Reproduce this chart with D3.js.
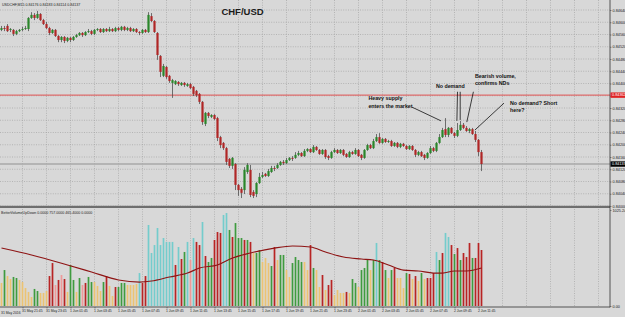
<!DOCTYPE html>
<html>
<head>
<meta charset="utf-8">
<script src="https://cdn.jsdelivr.net/npm/d3@7"></script>
<style>
html, body { margin: 0; padding: 0; background: #d8d8d8; }
svg { display: block; font-family: "Liberation Sans", Arial, sans-serif; }
</style>
</head>
<body>
<svg id="chart" width="625" height="317"></svg>
<script>
// USDCHF M15, one entry per bar (bar 0 = 31 May 20:00)
var opens = [.84575,.84581,.84588,.84575,.84575,.84562,.84571,.84575,.84578,.84578,
  .84614,.84624,.84614,.84627,.84607,.84594,.84581,.84565,.84575,.84555,
  .84542,.84552,.84539,.84549,.84542,.84552,.84558,.84565,.84558,.84568,
  .84571,.84562,.84575,.84578,.84568,.84578,.84571,.84578,.84571,.84581,
  .84575,.84585,.84575,.84581,.84571,.84578,.84568,.84565,.84575,.84568,
  .84620,.84604,.84565,.84490,.84425,.84454,.84425,.84402,.84398,.84405,
  .84395,.84402,.84392,.84398,.84389,.84376,.84366,.84340,.84268,.84304,
  .84291,.84297,.84287,.84225,.84206,.84189,.84154,.84131,.84137,.84069,
  .84056,.84052,.84111,.84118,.84046,.84039,.84075,.84095,.84105,.84098,
  .84111,.84124,.84124,.84134,.84144,.84140,.84150,.84157,.84157,.84167,
  .84173,.84163,.84180,.84186,.84176,.84193,.84183,.84170,.84183,.84163,
  .84157,.84176,.84183,.84173,.84183,.84170,.84160,.84176,.84170,.84183,
  .84167,.84157,.84183,.84199,.84189,.84212,.84225,.84206,.84219,.84209,
  .84212,.84196,.84206,.84193,.84203,.84196,.84186,.84196,.84183,.84167,
  .84176,.84167,.84157,.84173,.84189,.84180,.84206,.84225,.84251,.84232,
  .84255,.84238,.84229,.84248,.84265,.84255,.84245,.84251,.84235,.84216,
  .84176];
var highs = [.84588,.84588,.84594,.84581,.84578,.84575,.84578,.84585,.84588,.84617,
  .84633,.84630,.84637,.84630,.84611,.84601,.84585,.84578,.84578,.84558,
  .84555,.84555,.84552,.84552,.84555,.84562,.84568,.84568,.84571,.84578,
  .84575,.84578,.84581,.84581,.84581,.84581,.84585,.84581,.84585,.84585,
  .84588,.84588,.84585,.84585,.84581,.84581,.84571,.84578,.84578,.84633,
  .84630,.84607,.84568,.84493,.84464,.84457,.84428,.84415,.84411,.84408,
  .84405,.84405,.84402,.84402,.84392,.84379,.84369,.84343,.84307,.84307,
  .84300,.84300,.84291,.84229,.84209,.84193,.84157,.84160,.84140,.84072,
  .84062,.84127,.84140,.84134,.84052,.84078,.84108,.84111,.84108,.84121,
  .84131,.84131,.84140,.84147,.84150,.84157,.84160,.84163,.84176,.84180,
  .84176,.84186,.84189,.84189,.84199,.84196,.84186,.84186,.84186,.84167,
  .84180,.84189,.84186,.84186,.84186,.84173,.84180,.84180,.84189,.84186,
  .84170,.84186,.84203,.84203,.84219,.84235,.84238,.84222,.84222,.84216,
  .84216,.84209,.84209,.84206,.84206,.84199,.84199,.84199,.84186,.84180,
  .84180,.84170,.84176,.84196,.84193,.84209,.84235,.84255,.84287,.84258,
  .84258,.84242,.84271,.84278,.84271,.84261,.84255,.84255,.84245,.84219,
  .84183];
var lows = [.84571,.84571,.84568,.84568,.84555,.84558,.84568,.84571,.84575,.84571,
  .84611,.84607,.84611,.84604,.84591,.84578,.84558,.84562,.84552,.84535,
  .84535,.84532,.84535,.84535,.84539,.84549,.84555,.84552,.84555,.84565,
  .84558,.84558,.84571,.84565,.84565,.84568,.84568,.84568,.84568,.84571,
  .84571,.84571,.84571,.84568,.84568,.84565,.84558,.84562,.84565,.84565,
  .84601,.84565,.84477,.84421,.84421,.84415,.84402,.84353,.84395,.84392,
  .84392,.84389,.84389,.84382,.84359,.84356,.84333,.84265,.84261,.84287,
  .84287,.84281,.84212,.84189,.84183,.84134,.84124,.84121,.84052,.84033,
  .84026,.84039,.84105,.84029,.84026,.84029,.84072,.84091,.84095,.84095,
  .84108,.84114,.84121,.84131,.84134,.84137,.84147,.84147,.84154,.84163,
  .84160,.84160,.84176,.84173,.84173,.84180,.84167,.84167,.84154,.84150,
  .84154,.84173,.84170,.84170,.84163,.84157,.84157,.84167,.84167,.84160,
  .84150,.84154,.84180,.84186,.84186,.84209,.84203,.84203,.84206,.84206,
  .84193,.84193,.84189,.84189,.84193,.84183,.84183,.84180,.84160,.84163,
  .84160,.84150,.84154,.84170,.84176,.84176,.84203,.84222,.84225,.84225,
  .84235,.84222,.84225,.84245,.84251,.84242,.84238,.84232,.84209,.84163,
  .84114];
var closes = [.84581,.84578,.84571,.84578,.84562,.84571,.84575,.84578,.84581,.84614,
  .84624,.84614,.84627,.84607,.84594,.84581,.84565,.84575,.84555,.84542,
  .84552,.84539,.84549,.84542,.84552,.84558,.84565,.84558,.84568,.84571,
  .84562,.84575,.84578,.84568,.84578,.84571,.84578,.84571,.84581,.84575,
  .84585,.84575,.84581,.84571,.84578,.84568,.84565,.84575,.84568,.84624,
  .84604,.84568,.84493,.84438,.84457,.84421,.84408,.84411,.84408,.84398,
  .84402,.84395,.84398,.84385,.84366,.84362,.84340,.84274,.84304,.84294,
  .84297,.84284,.84222,.84199,.84189,.84144,.84131,.84157,.84069,.84052,
  .84043,.84118,.84134,.84036,.84033,.84075,.84095,.84101,.84098,.84114,
  .84124,.84121,.84134,.84144,.84140,.84150,.84157,.84154,.84167,.84173,
  .84163,.84180,.84186,.84176,.84193,.84183,.84170,.84183,.84160,.84157,
  .84176,.84183,.84173,.84183,.84167,.84160,.84176,.84170,.84183,.84163,
  .84157,.84183,.84199,.84189,.84212,.84225,.84206,.84219,.84209,.84212,
  .84196,.84206,.84193,.84203,.84196,.84186,.84196,.84183,.84167,.84176,
  .84163,.84157,.84173,.84189,.84180,.84206,.84225,.84248,.84232,.84255,
  .84238,.84229,.84248,.84265,.84255,.84245,.84251,.84235,.84216,.84176,
  .84137];

var volumes = [246,384,320,288,310,299,278,256,192,150,
  96,182,160,139,139,160,320,459,224,278,
  331,288,150,438,278,150,299,224,246,310,
  256,256,214,160,256,320,214,107,203,203,
  246,246,224,224,224,235,352,246,320,865,
  566,651,833,651,726,684,684,684,438,630,
  502,577,684,491,726,684,651,897,534,470,
  513,705,790,780,972,993,812,737,886,726,
  726,705,705,684,566,566,598,470,513,459,
  427,630,491,545,545,384,310,459,523,491,
  470,470,384,651,406,384,203,331,171,224,
  278,117,171,139,139,150,139,288,246,203,
  384,406,491,384,491,673,491,470,384,299,
  384,406,299,299,192,352,342,288,320,267,
  352,288,299,299,352,577,491,566,780,737,
  651,555,619,491,566,523,673,513,513,673,
  598];
// Y low, G green, R red, P light red, C cyan
var volKinds = ['Y','G','Y','Y','G','G','Y','Y','Y','Y',
  'Y','G','G','Y','Y','Y','R','R','P','R',
  'P','R','Y','G','G','Y','G','P','R','G',
  'G','Y','Y','Y','G','R','Y','Y','R','G',
  'G','G','Y','Y','Y','Y','C','R','R','C',
  'C','C','C','C','C','C','C','C','R','C',
  'R','G','C','P','C','R','R','C','R','G',
  'G','R','R','R','C','C','G','R','G','G',
  'G','R','G','R','Y','G','G','Y','Y','Y',
  'G','R','Y','G','G','Y','Y','G','G','G',
  'G','Y','Y','R','G','Y','Y','R','Y','R',
  'R','Y','Y','Y','Y','R','Y','G','G','Y',
  'G','G','G','Y','G','C','G','R','G','Y',
  'G','R','Y','Y','Y','G','R','Y','R','Y',
  'G','Y','R','R','R','C','G','R','C','C',
  'R','G','R','G','R','R','R','G','R','R',
  'R'];
var maBars = [0,10,22,30,39,46,50,56,62,66,72,77,83,91,97,103,108,114,120,124,129,134,139,144,147,151,155,160];
var maValues = [619,545,438,363,278,256,267,310,352,406,438,513,566,619,641,630,577,523,502,491,438,384,374,352,352,374,374,406];

var priceTicks = [0.84640,0.84600,0.84560,0.84520,0.84480,0.84440,0.84400,0.84360,0.84320,
  0.84280,0.84240,0.84200,0.84160,0.84120,0.84080,0.84040,0.84000];
var lineLevel = 0.84362;
var bidPrice = 0.84137;
var timeBars = [7,15,23,31,39,47,55,63,71,79,87,95,103,111,119,127,135,143,151,159];
var timeLabels = ['31 May 21:45','31 May 23:45','1 Jun 01:45','1 Jun 03:45','1 Jun 05:45','1 Jun 07:45',
  '1 Jun 09:45','1 Jun 11:45','1 Jun 13:45','1 Jun 15:45','1 Jun 17:45','1 Jun 19:45','1 Jun 21:45',
  '1 Jun 23:45','2 Jun 01:45','2 Jun 03:45','2 Jun 05:45','2 Jun 07:45','2 Jun 09:45','2 Jun 11:45'];
var gridBars = [7,15,23,31,39,47,55,63,71,79,87,95,103,111,119,127,135,143,151,159,167,175,183,191,199];

var notes = [
  {lines: ['Heavy supply', 'enters the market'], bar: 122.3, price: 0.84346, ptr: [[136.8, 0.84323, 146.5, 0.84278]]},
  {lines: ['No demand'], bar: 144.8, price: 0.84385, ptr: [[152, 0.84373, 151.8, 0.84278], [152.9, 0.84373, 152.9, 0.84281]]},
  {lines: ['Bearish volume,', 'confirms NDs'], bar: 157.8, price: 0.84418, ptr: [[157.3, 0.84373, 155.1, 0.84274]]},
  {lines: ['No demand? Short', 'here?'], bar: 169.5, price: 0.84330, ptr: [[167.5, 0.84336, 157.8, 0.84248]]}
];

var kindColor = {Y: '#ecc372', G: '#3f9b3f', R: '#b82424', P: '#ee9a9a', C: '#74cccc'};

var svg = d3.select('#chart');
const axisX = 610;

var x = d3.scaleLinear().domain([0, 200]).range([1.5, 601.5]);
var y = d3.scaleLinear().domain([0.84000, 0.84640]).range([206, 10]);
var yv = d3.scaleLinear().domain([0, 1025.24]).range([306, 210]);

svg.append('rect').attr('width', 625).attr('height', 317).attr('fill', '#d8d8d8');

// grid
var grid = svg.append('g').attr('stroke', '#9c9c9c').attr('stroke-width', 0.6).attr('stroke-dasharray', '1,1.4');
grid.selectAll('.hg').data(priceTicks).enter().append('line')
    .attr('x1', 0).attr('x2', axisX)
    .attr('y1', function(d) { return y(d); }).attr('y2', function(d) { return y(d); });
grid.selectAll('.vg').data(gridBars).enter().append('line')
    .attr('x1', function(d) { return x(d); }).attr('x2', function(d) { return x(d); })
    .attr('y1', 0).attr('y2', 205);
grid.selectAll('.vg2').data(gridBars).enter().append('line')
    .attr('x1', function(d) { return x(d); }).attr('x2', function(d) { return x(d); })
    .attr('y1', 209).attr('y2', 306);

// level line and bid line
svg.append('line').attr('x1', 0).attr('x2', axisX)
    .attr('y1', y(lineLevel)).attr('y2', y(lineLevel))
    .attr('stroke', '#e05a5a').attr('stroke-width', 1.2).attr('opacity', 0.85);
svg.append('line').attr('x1', 0).attr('x2', axisX)
    .attr('y1', y(bidPrice)).attr('y2', y(bidPrice))
    .attr('stroke', '#a9a9a9').attr('stroke-width', 1.4);

// candles
var bars = d3.range(opens.length);
var candles = svg.append('g');
candles.selectAll('.wick').data(bars).enter().append('line')
    .attr('x1', function(i) { return x(i); }).attr('x2', function(i) { return x(i); })
    .attr('y1', function(i) { return y(highs[i]); }).attr('y2', function(i) { return y(lows[i]); })
    .attr('stroke', '#505050').attr('stroke-width', 0.8);
candles.selectAll('.body').data(bars).enter().append('rect')
    .attr('x', function(i) { return x(i) - 1.1; })
    .attr('width', 2.2)
    .attr('y', function(i) { return y(Math.max(opens[i], closes[i])); })
    .attr('height', function(i) { return Math.max(0.8, Math.abs(y(opens[i]) - y(closes[i]))); })
    .attr('fill', function(i) { return closes[i] >= opens[i] ? '#2a862a' : '#b02626'; });

// title and headers
svg.append('text').attr('x', 242.5).attr('y', 14.5)
    .attr('text-anchor', 'middle').style('font-weight', 'bold').style('font-size', '9.5px')
    .attr('fill', '#1b1b1b').text('CHF/USD');
svg.append('text').attr('x', 2).attr('y', 5.5).style('font-size', '3.6px').attr('fill', '#222')
    .text('USDCHF,M15  0.84176 0.84183 0.84114 0.84137');
svg.append('text').attr('x', 1).attr('y', 213.5).style('font-size', '3.6px').attr('fill', '#222')
    .text('BetterVolumeUpDown 0.0000 757.0000 465.4000 0.0000');

// annotations
var ann = svg.append('g');
notes.forEach(function(n) {
    var t = ann.append('text').attr('x', x(n.bar)).attr('y', y(n.price))
        .style('font-size', '5.3px').style('font-weight', 'bold').attr('fill', '#111');
    n.lines.forEach(function(s, j) {
        t.append('tspan').attr('x', x(n.bar)).attr('dy', j ? 7.5 : 0).text(s);
    });
    n.ptr.forEach(function(p) {
        ann.append('line')
            .attr('x1', x(p[0])).attr('y1', y(p[1]))
            .attr('x2', x(p[2])).attr('y2', y(p[3]))
            .attr('stroke', '#111').attr('stroke-width', 0.8);
    });
});

// volume bars
svg.append('g').selectAll('.vol').data(bars).enter().append('rect')
    .attr('x', function(i) { return x(i) - 0.85; })
    .attr('width', 1.7)
    .attr('y', function(i) { return yv(volumes[i]); })
    .attr('height', function(i) { return yv(0) - yv(volumes[i]); })
    .attr('fill', function(i) { return kindColor[volKinds[i]]; });

var maLine = d3.line()
    .x(function(d, i) { return x(maBars[i]); })
    .y(function(d) { return yv(d); })
    .curve(d3.curveMonotoneX);
svg.append('path').attr('d', maLine(maValues))
    .attr('fill', 'none').attr('stroke', '#8e1414').attr('stroke-width', 1.2);

// panel frame
svg.append('rect').attr('x', 0).attr('y', 205.8).attr('width', axisX).attr('height', 2.2).attr('fill', '#6e6e6e');
svg.append('line').attr('x1', 0).attr('x2', axisX).attr('y1', 307).attr('y2', 307)
    .attr('stroke', '#333').attr('stroke-width', 0.8);
svg.append('line').attr('x1', axisX).attr('x2', axisX).attr('y1', 0).attr('y2', 307.4)
    .attr('stroke', '#333').attr('stroke-width', 0.8);

// right axes
var yAxis = d3.axisRight(y).tickValues(priceTicks).tickFormat(d3.format('.5f')).tickSize(1.5).tickPadding(1);
var ga = svg.append('g').attr('transform', 'translate(' + axisX + ',0)').call(yAxis);
ga.select('.domain').remove();
ga.selectAll('text').style('font-size', '3.8px').attr('fill', '#222');
ga.selectAll('line').attr('stroke', '#333').attr('stroke-width', 0.5);

var vAxis = d3.axisRight(yv).tickValues([0, 1025.24]).tickFormat(d3.format('.2f')).tickSize(1.5).tickPadding(1);
var gv = svg.append('g').attr('transform', 'translate(' + axisX + ',0)').call(vAxis);
gv.select('.domain').remove();
gv.selectAll('text').style('font-size', '3.8px').attr('fill', '#222');
gv.selectAll('line').attr('stroke', '#333').attr('stroke-width', 0.5);

// price tags
[[lineLevel, '#e02222'], [bidPrice, '#000']].forEach(function(p) {
    svg.append('rect').attr('x', axisX + 0.5).attr('y', y(p[0]) - 2.7)
        .attr('width', 14.5).attr('height', 5.4).attr('fill', p[1]);
    svg.append('text').attr('x', axisX + 2).attr('y', y(p[0]) + 1.3)
        .style('font-size', '3.8px').attr('fill', '#fff').text(d3.format('.5f')(p[0]));
});

// time axis
var xAxis = d3.axisBottom(x).tickValues(timeBars)
    .tickFormat(function(d, i) { return timeLabels[i]; }).tickSize(1.5).tickPadding(1.5);
var gx = svg.append('g').attr('transform', 'translate(0,307)').call(xAxis);
gx.select('.domain').remove();
gx.selectAll('text').style('font-size', '3.4px').attr('fill', '#222').attr('text-anchor', 'start').attr('dx', -1);
gx.selectAll('line').attr('stroke', '#333').attr('stroke-width', 0.5);
svg.append('text').attr('x', 1).attr('y', 313.5)
    .style('font-size', '3.4px').attr('fill', '#222').text('31 May 2016');
</script>
</body>
</html>
